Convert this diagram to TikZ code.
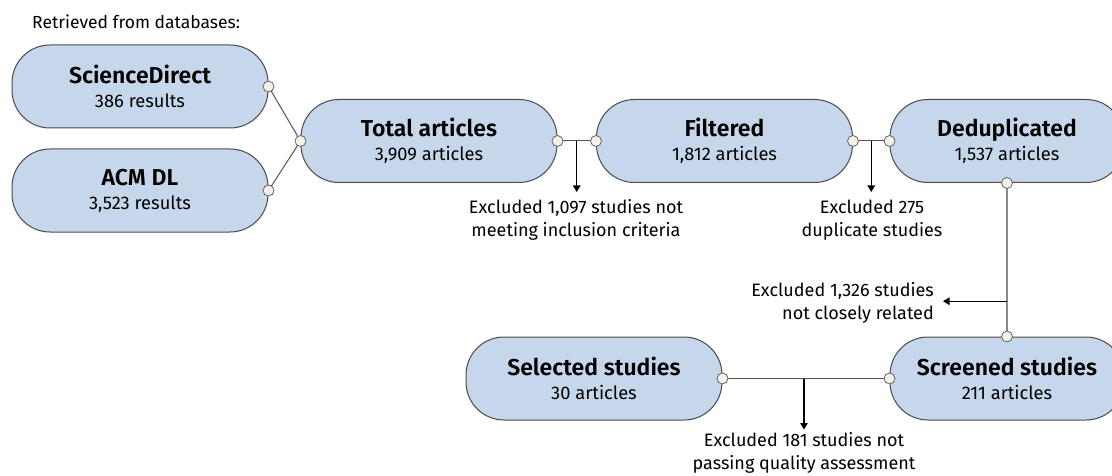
\documentclass[tikz,border=0pt]{standalone}
\usepackage{fontspec}
\setmainfont{Fira Sans}[BoldFont={Fira Sans SemiBold}]
\usetikzlibrary{arrows.meta,calc}
\definecolor{boxfill}{HTML}{C6D7EB}
\definecolor{boxline}{HTML}{4A4A4A}
\definecolor{dotfill}{HTML}{F4F1E8}
\definecolor{linegray}{HTML}{555555}
\definecolor{vgray}{HTML}{8A8A8A}
\tikzset{
 stagebox/.style={draw=boxline, line width=1pt, fill=boxfill, rounded corners=38pt,
   minimum width=256pt, minimum height=83pt, align=center, inner sep=0pt,
   font=\fontsize{18.3}{24}\selectfont},
 portdot/.style={circle, draw=boxline!85, fill=dotfill, line width=0.8pt, minimum size=11pt, inner sep=0pt},
 link/.style={draw=linegray, line width=1pt},
 vlink/.style={draw=vgray, line width=1.4pt},
 exarrow/.style={draw=black, line width=1.2pt, -{Triangle[width=7.5pt,length=6.5pt]}},
 note/.style={font=\fontsize{18}{23}\selectfont, inner sep=0pt},
}
\newcommand{\stagetitle}[1]{{\fontsize{23}{24}\selectfont\bfseries #1}}
\begin{document}
\begin{tikzpicture}[x=1pt,y=-1pt]
\useasboundingbox (0,0) rectangle (1112,476);
\clip (0,0) rectangle (1112,476);
\node[note, anchor=west, font=\fontsize{17.5}{20}\selectfont] (ret) at (32,22) {Retrieved from databases:};

\node[stagebox] (sd)  at (140,86.5)  {\stagetitle{ScienceDirect}\\386 results};
\node[stagebox] (acm) at (140,190.5) {\stagetitle{ACM DL}\\3,523 results};
\node[stagebox] (tot) at (429,141)   {\stagetitle{Total articles}\\3,909 articles};
\node[stagebox] (fil) at (724.5,141) {\stagetitle{Filtered}\\1,812 articles};
\node[stagebox, minimum width=234pt] (ded) at (1007,141) {\stagetitle{Deduplicated}\\1,537 articles};
\node[stagebox, minimum width=234pt] (scr) at (1007,378.5) {\stagetitle{Screened studies}\\211 articles};
\node[stagebox] (sel) at (594,378.5) {\stagetitle{Selected studies}\\30 articles};

\draw[link] (sd.east) -- (tot.west);
\draw[link] (acm.east) -- (tot.west);
\draw[link] (tot.east) -- (fil.west);
\draw[link] (fil.east) -- (ded.west);
\draw[vlink] (ded.south) -- (scr.north);
\draw[link] (sel.east) -- (scr.west);

\coordinate (m1) at ($(tot.east)!0.5!(fil.west)$);
\coordinate (m2) at ($(fil.east)!0.5!(ded.west)$);
\coordinate (m3) at ($(ded.south)!0.77!(scr.north)$);
\coordinate (m4) at ($(sel.east)!0.488!(scr.west)$);
\coordinate (t1) at ($(m1)+(0,51)$);
\coordinate (t2) at ($(m2)+(0,51)$);
\coordinate (t3) at ($(m3)+(-64,0)$);
\coordinate (t4) at ($(m4)+(0,51)$);
\draw[exarrow] (m1) -- (t1);
\draw[exarrow] (m2) -- (t2);
\draw[exarrow] (m3) -- (t3);
\draw[exarrow] (m4) -- (t4);

\node[note, align=center] (ex1) at (576,220) {Excluded 1,097 studies not\\meeting inclusion criteria};
\node[note, align=center] (ex2) at (872,220) {Excluded 275\\duplicate studies};
\node[note, align=right, anchor=east] (ex3) at (934,303) {Excluded 1,326 studies\\not closely related};
\node[note, align=center] (ex4) at (804,453) {Excluded 181 studies not\\passing quality assessment};

\node[portdot] (p1) at (sd.east) {};
\node[portdot] (p2) at (acm.east) {};
\node[portdot] (p3) at (tot.west) {};
\node[portdot] (p4) at (tot.east) {};
\node[portdot] (p5) at (fil.west) {};
\node[portdot] (p6) at (fil.east) {};
\node[portdot] (p7) at (ded.west) {};
\node[portdot] (p8) at (ded.south) {};
\node[portdot] (p9) at (scr.north) {};
\node[portdot] (p10) at (scr.west) {};
\node[portdot] (p11) at (sel.east) {};
\end{tikzpicture}
\end{document}
